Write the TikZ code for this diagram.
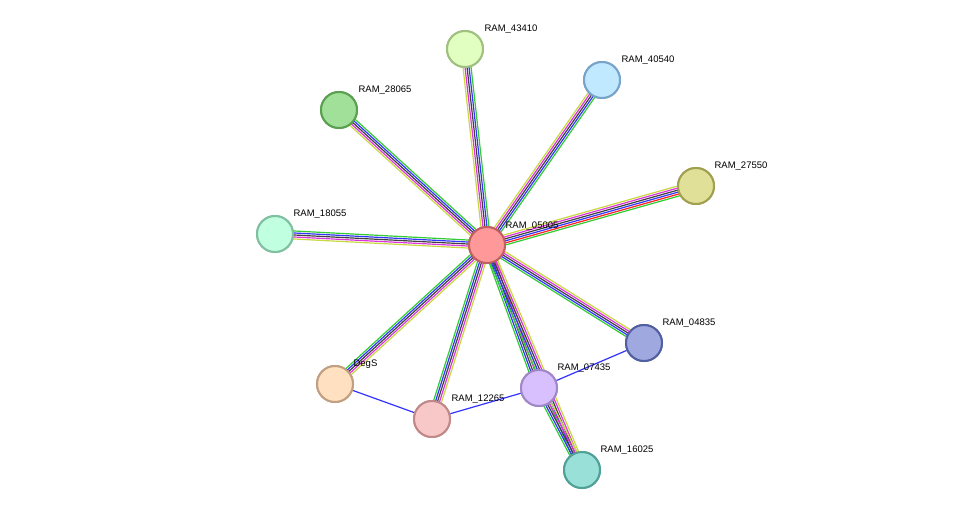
\documentclass[tikz,border=0pt]{standalone}
\usepackage{fontspec}
\setmainfont{Liberation Sans}
\usetikzlibrary{calc}
\tikzset{
	prot/.style={circle, minimum size=36pt, line width=2pt, inner sep=0pt}, % protein node
	lbl/.style={font=\fontsize{9.5}{11}\selectfont, inner sep=0pt, anchor=south west}, % node label
	every path/.style={line width=1.2pt},
}
\definecolor{eg}{HTML}{33CC33}
\definecolor{er}{HTML}{FF2020}
\definecolor{eb}{HTML}{3333FF}
\definecolor{ek}{HTML}{404040}
\definecolor{em}{HTML}{DD33DD}
\definecolor{ey}{HTML}{C8D840}
% bundle of evidence lines between two nodes
\newcommand\bundle[3]{\foreach \c/\o in {#3}{\draw[\c] ($(#1)!\o pt!90:(#2)$) -- ($(#2)!\o pt!-90:(#1)$);}}
\begin{document}
\begin{tikzpicture}[x=1pt, y=-1pt]
	\useasboundingbox[fill=white] (0,0) rectangle (975,516);
	\node[prot, fill={rgb,255:red,255;green,153;blue,153}, draw={rgb,255:red,192;green,96;blue,96}] (c) at (487,245) {};
	\node[prot, fill={rgb,255:red,224;green,255;blue,192}, draw={rgb,255:red,160;green,192;blue,128}] (n43410) at (465,49) {};
	\node[prot, fill={rgb,255:red,192;green,232;blue,255}, draw={rgb,255:red,120;green,164;blue,200}] (n40540) at (602,80) {};
	\node[prot, fill={rgb,255:red,160;green,224;blue,152}, draw={rgb,255:red,90;green,160;blue,80}] (n28065) at (339,110) {};
	\node[prot, fill={rgb,255:red,224;green,224;blue,152}, draw={rgb,255:red,160;green,160;blue,80}] (n27550) at (696,186) {};
	\node[prot, fill={rgb,255:red,192;green,255;blue,224}, draw={rgb,255:red,128;green,192;blue,160}] (n18055) at (275,234) {};
	\node[prot, fill={rgb,255:red,160;green,168;blue,224}, draw={rgb,255:red,80;green,96;blue,160}] (n04835) at (644,343) {};
	\node[prot, fill={rgb,255:red,216;green,192;blue,255}, draw={rgb,255:red,160;green,136;blue,200}] (n07435) at (539,388) {};
	\node[prot, fill={rgb,255:red,255;green,224;blue,192}, draw={rgb,255:red,192;green,160;blue,128}] (degs) at (335,384) {};
	\node[prot, fill={rgb,255:red,248;green,200;blue,200}, draw={rgb,255:red,192;green,136;blue,136}] (n12265) at (432,419) {};
	\node[prot, fill={rgb,255:red,152;green,224;blue,216}, draw={rgb,255:red,80;green,160;blue,152}] (n16025) at (582,470) {};

	\begin{scope}[on background layer/.style={}]
	\bundle{c}{n43410}{eg/-4, eb/-2, ek/0, em/2, ey/4}
	\bundle{c}{n40540}{eg/-4, eb/-2, ek/0, em/2, ey/4}
	\bundle{c}{n28065}{eg/-4, eb/-2, ek/0, em/2, ey/4}
	\bundle{c}{n27550}{eg/-5, er/-3, eb/-1, ek/1, em/3, ey/5}
	\bundle{c}{n18055}{eg/-4, eb/-2, ek/0, em/2, ey/4}
	\bundle{c}{n04835}{eg/-4, eb/-2, ek/0, em/2, ey/4}
	\bundle{c}{n07435}{eg/-4, eb/-2, ek/0, em/2, ey/4}
	\bundle{c}{n16025}{eg/-4, eb/-2, ek/0, em/2, ey/4}
	\bundle{c}{degs}{eg/-4, eb/-2, ek/0, em/2, ey/4}
	\bundle{c}{n12265}{eg/-4, eb/-2, ek/0, em/2, ey/4}
	\bundle{n07435}{n16025}{eg/-4, eb/-2, ek/0, em/2, ey/4}
	\draw[eb] (degs) -- (n12265);
	\draw[eb] (n12265) -- (n07435);
	\draw[eb] (n07435) -- (n04835);
	\end{scope}

	% redraw nodes on top of the edges
	\foreach \n in {c,n43410,n40540,n28065,n27550,n18055,n04835,n07435,degs,n12265,n16025}
		\path (\n);
	\node[prot, fill={rgb,255:red,255;green,153;blue,153}, draw={rgb,255:red,192;green,96;blue,96}] at (c) {};
	\node[prot, fill={rgb,255:red,224;green,255;blue,192}, draw={rgb,255:red,160;green,192;blue,128}] at (n43410) {};
	\node[prot, fill={rgb,255:red,192;green,232;blue,255}, draw={rgb,255:red,120;green,164;blue,200}] at (n40540) {};
	\node[prot, fill={rgb,255:red,160;green,224;blue,152}, draw={rgb,255:red,90;green,160;blue,80}] at (n28065) {};
	\node[prot, fill={rgb,255:red,224;green,224;blue,152}, draw={rgb,255:red,160;green,160;blue,80}] at (n27550) {};
	\node[prot, fill={rgb,255:red,192;green,255;blue,224}, draw={rgb,255:red,128;green,192;blue,160}] at (n18055) {};
	\node[prot, fill={rgb,255:red,160;green,168;blue,224}, draw={rgb,255:red,80;green,96;blue,160}] at (n04835) {};
	\node[prot, fill={rgb,255:red,216;green,192;blue,255}, draw={rgb,255:red,160;green,136;blue,200}] at (n07435) {};
	\node[prot, fill={rgb,255:red,255;green,224;blue,192}, draw={rgb,255:red,192;green,160;blue,128}] at (degs) {};
	\node[prot, fill={rgb,255:red,248;green,200;blue,200}, draw={rgb,255:red,192;green,136;blue,136}] at (n12265) {};
	\node[prot, fill={rgb,255:red,152;green,224;blue,216}, draw={rgb,255:red,80;green,160;blue,152}] at (n16025) {};

	% labels
	\node[lbl] at ($(c)+(18,-14)$) {RAM\_05005};
	\node[lbl] at ($(n43410)+(19,-15)$) {RAM\_43410};
	\node[lbl] at ($(n40540)+(19,-15)$) {RAM\_40540};
	\node[lbl] at ($(n28065)+(19,-15)$) {RAM\_28065};
	\node[lbl] at ($(n27550)+(18,-15)$) {RAM\_27550};
	\node[lbl] at ($(n18055)+(18,-15)$) {RAM\_18055};
	\node[lbl] at ($(n04835)+(18,-15)$) {RAM\_04835};
	\node[lbl] at ($(n07435)+(18,-15)$) {RAM\_07435};
	\node[lbl] at ($(degs)+(18,-15)$) {DegS};
	\node[lbl] at ($(n12265)+(19,-15)$) {RAM\_12265};
	\node[lbl] at ($(n16025)+(18,-15)$) {RAM\_16025};
\end{tikzpicture}
\end{document}
